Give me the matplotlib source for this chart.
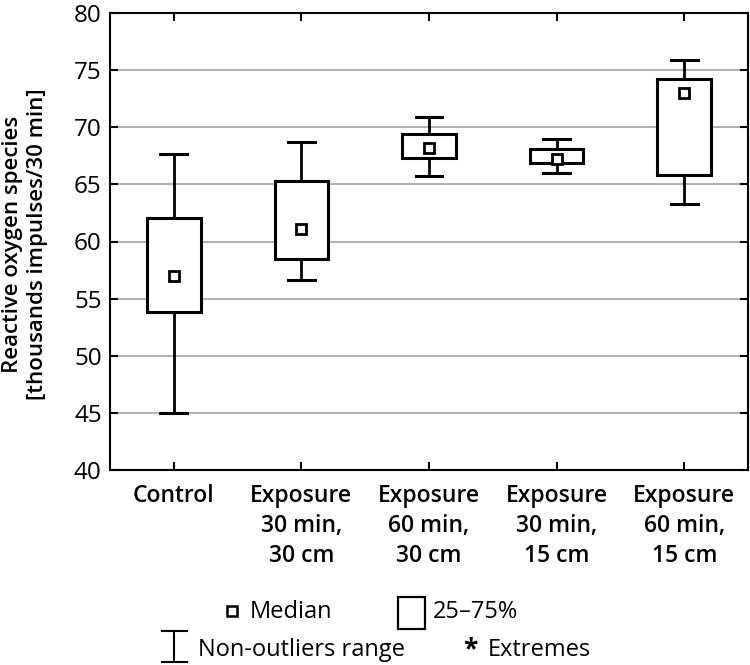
import matplotlib
matplotlib.use("Agg")
import matplotlib.pyplot as plt
from matplotlib.patches import Rectangle
from matplotlib.lines import Line2D

plt.rcParams['font.family'] = ['Open Sans', 'DejaVu Sans']

groups = ['Control', 'Exposure\n30 min,\n30 cm', 'Exposure\n60 min,\n30 cm',
          'Exposure\n30 min,\n15 cm', 'Exposure\n60 min,\n15 cm']
medians = [57.0, 61.1, 68.2, 67.25, 73.0]
q1 = [53.85, 58.5, 67.3, 66.9, 65.8]
q3 = [62.1, 65.3, 69.4, 68.1, 74.2]
whis_lo = [45.0, 56.6, 65.7, 66.0, 63.3]
whis_hi = [67.7, 68.7, 70.9, 69.0, 75.9]

W, H = 750, 665
fig = plt.figure(figsize=(W / 100, H / 100), dpi=100)
ax = fig.add_axes([110 / W, 1 - 470 / H, 638 / W, 457 / H])

stats = []
for i in range(len(groups)):
    stats.append(dict(med=medians[i], q1=q1[i], q3=q3[i],
                      whislo=whis_lo[i], whishi=whis_hi[i], fliers=[]))

pos = list(range(len(groups)))
ax.bxp(stats, positions=pos, widths=0.42, capwidths=0.21, patch_artist=True,
       boxprops=dict(facecolor='white', edgecolor='black', linewidth=2.2),
       whiskerprops=dict(color='black', linewidth=2.0),
       capprops=dict(color='black', linewidth=2.2),
       medianprops=dict(linewidth=0), showfliers=False, zorder=3)
ax.plot(pos, medians, 's', ms=7, mfc='white', mec='black', mew=2, zorder=4)

ax.set_xlim(-0.5, 4.5)
ax.set_ylim(40, 80)
ax.set_yticks(range(40, 81, 5))
ax.set_xticks(pos)
ax.set_xticklabels(groups, fontsize=16.5, fontweight='semibold', linespacing=1.33)
ax.tick_params(axis='y', labelsize=17.5)
ax.tick_params(direction='in', length=6, width=1.5, top=True, right=True, pad=6)
ax.tick_params(axis='x', pad=10)
for y in range(45, 80, 5):
    ax.axhline(y, color='#aaaaaa', lw=1.3, zorder=1)
for s in ax.spines.values():
    s.set_linewidth(1.5)

# legend
def fx(x):
    return x / W

def fy(y):
    return 1 - y / H

fig.text(fx(25), fy(244), 'Reactive oxygen species\n[thousands impulses/30 min]',
         fontsize=16, fontweight='semibold', rotation=90, ha='center', va='center',
         linespacing=1.2)

fig.add_artist(Line2D([fx(232)], [fy(611)], marker='s', ms=7, mfc='white', mec='black', mew=1.8))
fig.text(fx(250), fy(612), 'Median', fontsize=17, va='center', ha='left')
fig.add_artist(Rectangle((fx(398), fy(629)), 27 / W, 32 / H, fill=False, ec='black', lw=1.6))
fig.text(fx(433), fy(612), '25–75%', fontsize=17, va='center', ha='left')
fig.add_artist(Line2D([fx(174), fx(174)], [fy(631), fy(662)], color='black', lw=1.5))
fig.add_artist(Line2D([fx(162), fx(187)], [fy(631), fy(631)], color='black', lw=1.5))
fig.add_artist(Line2D([fx(162), fx(187)], [fy(662), fy(662)], color='black', lw=1.5))
fig.text(fx(198), fy(650), 'Non-outliers range', fontsize=17, va='center', ha='left')
fig.text(fx(470), fy(650), '*', fontsize=19, fontweight='bold', va='center', ha='center')
fig.text(fx(488), fy(650), 'Extremes', fontsize=17, va='center', ha='left')

fig.savefig('out.png', dpi=100)
